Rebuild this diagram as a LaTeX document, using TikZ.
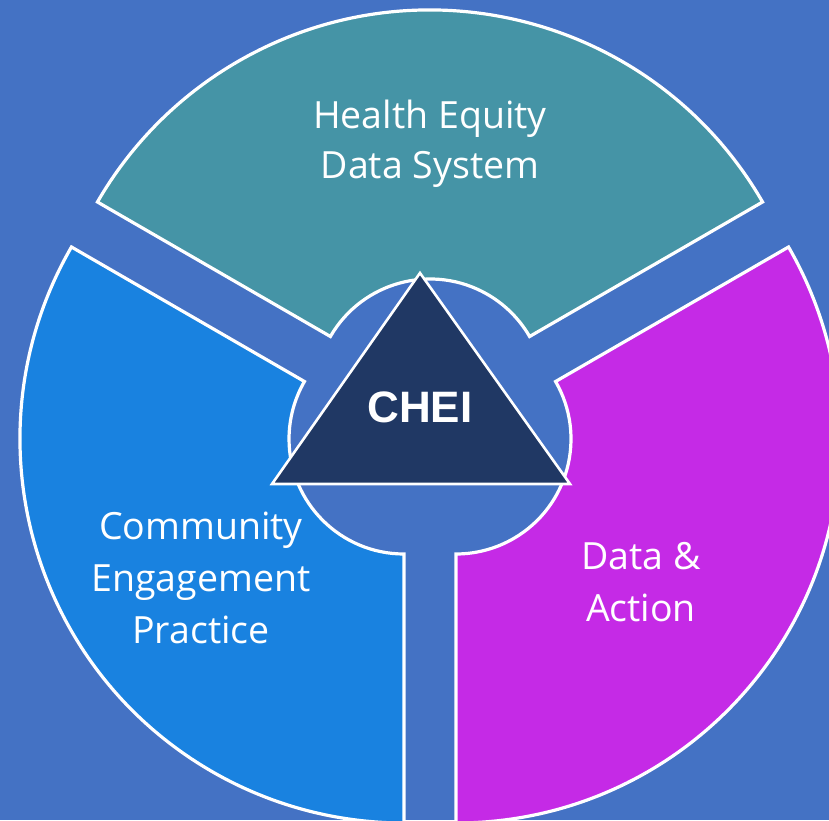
\documentclass[tikz,border=0pt]{standalone}
\usepackage{fontspec}
\setmainfont{Open Sans}
\newfontfamily\cheifont{Liberation Sans}
\usetikzlibrary{calc}
\definecolor{bgblue}{HTML}{4472C4}
\definecolor{tealseg}{HTML}{4594A6}
\definecolor{blueseg}{HTML}{1982E0}
\definecolor{magseg}{HTML}{C52AE6}
\definecolor{navy}{HTML}{203864}
\begin{document}
\begin{tikzpicture}[x=1pt,y=1pt,
  seg/.style={draw=white,line width=3.2pt,line join=miter},
  lbl/.style={text=white,anchor=base,inner sep=0pt,font=\fontsize{37.5}{44}\selectfont},
  tri/.style={draw=white,fill=navy,line width=2.6pt,line join=miter}]
\useasboundingbox (0,0) rectangle (829,820);
\fill[bgblue] (0,0) rectangle (829,820);
\begin{scope}
\clip (0,0) rectangle (829,820);
\coordinate (T) at (430,426);
\coordinate (L) at (404.02,381);
\coordinate (M) at (455.98,381);
% teal segment
\draw[seg,fill=tealseg] ($(T)+(30:384)$) arc[start angle=30,end angle=150,radius=384]
  -- ($(T)+(150:115)$) arc[start angle=150,end angle=30,radius=115] -- cycle;
% blue segment
\draw[seg,fill=blueseg] ($(L)+(150:384)$) arc[start angle=150,end angle=270,radius=384]
  -- ($(L)+(270:115)$) arc[start angle=270,end angle=150,radius=115] -- cycle;
% magenta segment
\draw[seg,fill=magseg] ($(M)+(-90:384)$) arc[start angle=-90,end angle=30,radius=384]
  -- ($(M)+(30:115)$) arc[start angle=30,end angle=-90,radius=115] -- cycle;
\end{scope}
% triangle
\coordinate (ta) at (420,547);
\coordinate (tb) at (272,336);
\coordinate (tc) at (570,336);
\draw[tri] (ta) -- (tb) -- (tc) -- cycle;
\node[text=white,anchor=base,inner sep=0pt,font=\cheifont\bfseries\fontsize{44}{50}\selectfont] (chei) at (420,398) {CHEI};
% labels
\node[lbl] (h1) at (430,691) {Health Equity};
\node[lbl] (h2) at (430,641) {Data System};
\node[lbl] (c1) at (201,281) {Community};
\node[lbl] (c2) at (201,229) {Engagement};
\node[lbl] (c3) at (201,177) {Practice};
\node[lbl] (d1) at (641,251) {Data \&};
\node[lbl] (d2) at (641,199) {Action};
\end{tikzpicture}
\end{document}
